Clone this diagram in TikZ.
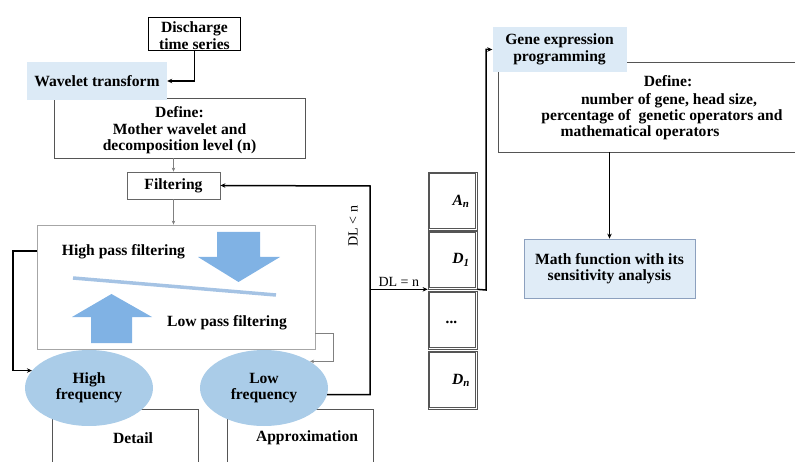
\documentclass[tikz,border=0pt]{standalone}
\usepackage{fontspec}
\setmainfont{Liberation Serif}
\usetikzlibrary{arrows.meta,shapes.geometric,calc}
\definecolor{softblue}{RGB}{220,234,246}
\definecolor{ellblue}{RGB}{170,204,232}
\definecolor{arrblue}{RGB}{128,178,228}
\definecolor{lineblue}{RGB}{165,195,228}
\definecolor{mathfill}{RGB}{224,236,247}
\definecolor{mathedge}{RGB}{140,160,190}
\definecolor{boxgray}{RGB}{85,85,85}
\tikzset{
  every node/.style={font=\fontsize{15.6}{16.5}\selectfont\bfseries, inner sep=1pt},
  plainbox/.style={draw=boxgray, line width=0.8pt, rectangle, align=center},
  shadebox/.style={fill=softblue, rectangle, align=center},
  freq/.style={ellipse, fill=ellblue, minimum width=128pt, minimum height=76pt, align=center},
  cellbox/.style={draw=boxgray, line width=0.7pt, minimum width=49pt, minimum height=58pt},
  conn/.style={line width=1.5pt, -{Stealth[length=5pt,width=4.5pt]}},
  thinconn/.style={draw=gray, line width=0.6pt, -{Stealth[length=4pt,width=3.5pt]}},
  lbl/.style={font=\fontsize{14}{15}\selectfont}
}
\begin{document}
\begin{tikzpicture}[x=1pt,y=-1pt]
\useasboundingbox (0,0) rectangle (795,462);
% left define box
\node[plainbox, minimum width=251pt, minimum height=60pt] (def1) at (179.5,128) {};
\node (def1a) at (179.5,112) {Define:};
\node[align=center] (def1b) at (179.5,139) {Mother wavelet and\\ decomposition level (n)};
\node[shadebox, minimum width=140pt, minimum height=38pt] (wt) at (97,81) {Wavelet transform};
\node[draw=black, line width=0.8pt, minimum width=92pt, minimum height=33pt] (ds) at (194.5,33.5) {};
\node[align=center] (dst) at (194.5,35.5) {Discharge\\time series};
\node[plainbox, draw=gray!80!black, minimum width=93pt, minimum height=27pt] (filt) at (173.5,185.5) {Filtering};
% big filtering box
\node[draw=gray!70, line width=0.8pt, minimum width=278pt, minimum height=124pt] (bigbox) at (176,287) {};
\node (hpf) at (123.5,252) {High pass filtering};
\node (lpf) at (227,323) {Low pass filtering};
\fill[arrblue] (217,232) -- (260,232) -- (260,257) -- (280,257) -- (238.5,282) -- (198,257) -- (217,257) -- cycle;
\fill[arrblue] (91,343) -- (132,343) -- (132,317) -- (152,317) -- (111.5,294) -- (72,317) -- (91,317) -- cycle;
\draw[lineblue, line width=3.5pt] (73,278) -- (276,295);
% detail / approximation boxes
\draw[boxgray, line width=0.8pt] (52,462) -- (52,409) -- (198,409) -- (198,462);
\draw[boxgray, line width=0.8pt] (227,462) -- (227,409) -- (373,409) -- (373,462);
\node (det) at (133,438) {Detail};
\node (app) at (307,438) {Approximation};
\node[freq] (hf) at (89,388) {High\\frequency};
\node[freq] (lf) at (264,388) {Low\\frequency};
% stack
\node[cellbox] (c1) at (452.5,201) {};
\node[cellbox] (c2) at (452.5,260) {};
\node[cellbox] (c3) at (452.5,320) {};
\node[cellbox] (c4) at (452.5,380) {};
\foreach \c in {c1,c2,c3,c4}
  \draw[boxgray, line width=0.6pt] ($(\c.north west)+(2,2)$) rectangle ($(\c.south east)+(-2,-2)$);
\node (t1) at (461,201) {\itshape A\textsubscript{n}};
\node (t2) at (461,260) {\itshape D\textsubscript{1}};
\node (t3) at (452,322) {\itshape ...};
\node (t4) at (461,380) {\itshape D\textsubscript{n}};
% right part
\draw[boxgray, line width=0.8pt] (795,62) -- (498,62) -- (498,152) -- (795,152);
\node (def2) at (668,81) {Define:};
\node (d2a) at (669,101) {number of gene, head size,};
\node (d2b) at (662,117) {percentage of~ genetic operators and};
\node (d2c) at (640,133) {mathematical operators};
\node[shadebox, minimum width=134pt, minimum height=45pt] (gep) at (559.5,49.5) {Gene expression\\programming};
\node[draw=mathedge, fill=mathfill, line width=0.8pt, align=center, minimum width=171pt, minimum height=59pt] (math) at (609.5,268.5) {Math function with its\\ sensitivity analysis};
% connectors
\draw[conn] (ds.south) |- (wt.east);
\draw[thinconn] (def1.south -| filt.north) -- (filt.north);
\draw[thinconn] (filt.south) -- (filt.south |- bigbox.north);
\coordinate (lk) at (13,251);
\draw[conn] (bigbox.west |- lk) -- (lk) |- (hf.163);
\coordinate (gk) at (333,333);
\draw[thinconn] (bigbox.east |- gk) -- (gk) |- (lf.30);
\coordinate (rk) at (370,186);
\draw[conn] (lf.-6) -| (rk) -- (filt.east);
\node[lbl, rotate=90] (dlless) at (353,226) {DL < n};
\draw[conn] (rk |- c2.south west) -- (c2.south west) node[lbl, midway, above=1pt] (dleq) {DL = n};
\coordinate (sk) at (486,290);
\draw[conn] (c2.south east) -- (sk) |- (gep.west);
\coordinate (mk) at (609.5,152);
\draw[conn] (mk) -- (math.north);
\end{tikzpicture}
\end{document}
